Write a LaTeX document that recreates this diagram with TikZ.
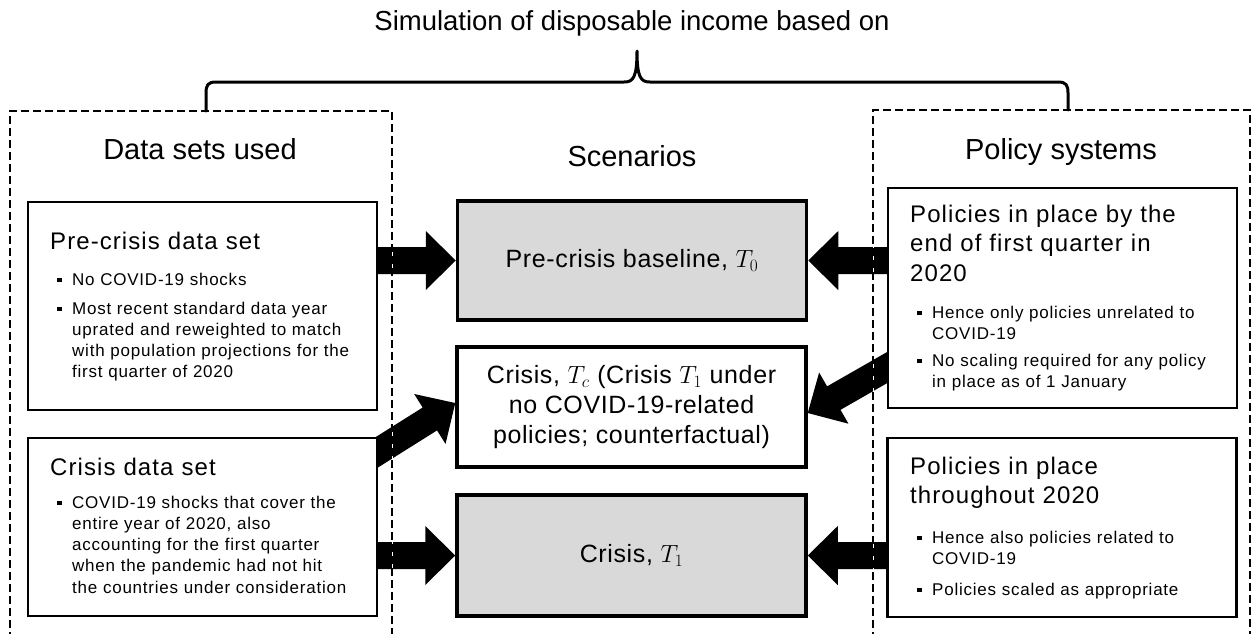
\documentclass[tikz,border=0pt]{standalone}
\usepackage{fontspec}
\setmainfont{Liberation Sans}
\newfontfamily\spacedfont[LetterSpace=4.5]{Liberation Sans}
\newfontfamily\scenfont[LetterSpace=2.5]{Liberation Sans}
\usetikzlibrary{calc}
\pgfdeclarelayer{background}
\pgfsetlayers{background,main}
\definecolor{boxgray}{HTML}{D9D9D9}
\newcommand{\bsq}{\llap{\rule[2.6pt]{4.6pt}{4.6pt}\hspace{10.4pt}}}
\newcommand{\fatarrow}[2]{%
  \coordinate (fab) at ($(#2)!30pt!(#1)$);
  \fill ($(fab)!13.5pt!90:(#1)$) -- ($(#1)!13.5pt!-90:(fab)$) -- ($(#1)!13.5pt!90:(fab)$) -- ($(fab)!13.5pt!-90:(#1)$) -- ($(fab)!29.5pt!-90:(#1)$) -- (#2) -- ($(fab)!29.5pt!90:(#1)$) -- cycle;}
\begin{document}
\begin{tikzpicture}[x=1pt, y=-1pt,
  frame/.style={draw=black, line width=2.2pt, fill=white, inner sep=0pt, minimum width=349pt},
  scen/.style={draw=black, line width=3.5pt, inner sep=0pt, minimum width=349pt, minimum height=120pt, font=\scenfont\fontsize{25}{30}\selectfont, align=center},
  txt/.style={inner sep=0pt, anchor=base west, text width=340pt, align=left},
  ttl/.style={txt, font=\spacedfont\fontsize{24}{29.5}\selectfont},
  itm/.style={txt, font=\spacedfont\fontsize{17}{21.3}\selectfont},
  hdr/.style={inner sep=0pt, anchor=base, font=\fontsize{29}{34}\selectfont},
  ttlmain/.style={inner sep=0pt, anchor=base, font=\fontsize{27.5}{32}\selectfont},
  dsh/.style={line width=2pt, dash pattern=on 8pt off 4pt},
  dshunder/.style={white, line width=1pt},
  bracepath/.style={line width=3pt, line join=round, line cap=round}
]
\useasboundingbox (0,0) rectangle (1252,633);

% title and brace
\node[ttlmain] (title) at (632,30) {Simulation of disposable income based on};
\draw[bracepath] (206,111) -- (206,93) .. controls (206,85) and (208,82) .. (216,82) -- (624,82) .. controls (633,82) and (637,78) .. (637,51) .. controls (637,78) and (641,82) .. (650,82) -- (1058,82) .. controls (1066,82) and (1068,85) .. (1068,93) -- (1068,110);

% dashed groups
\draw[dshunder] (392,111) -- (392,640);
\draw[dshunder] (873,110) -- (873,640);
\draw[dsh] (10,640) -- (10,111) -- (392,111) -- (392,640);
\draw[dsh] (873,640) -- (873,110) -- (1250,110) -- (1250,640);

% headers
\node[hdr] (h1) at (200,159) {Data sets used};
\node[hdr] (h2) at (632,166) {Scenarios};
\node[hdr] (h3) at (1061,159) {Policy systems};

% left boxes
\node[frame, minimum height=208pt] (pcd) at (202.5,306) {};
\node[ttl] (pcdt) at (50,249) {Pre-crisis data set};
\node[itm] (pcd1) at (72,285) {\bsq No COVID-19 shocks};
\node[itm] (pcd2) at (72,314) {\bsq Most recent standard data year\\uprated and reweighted to match\\with population projections for the\\first quarter of 2020};

\node[frame, minimum height=178pt] (cds) at (202.5,527) {};
\node[ttl] (cdst) at (50,475) {Crisis data set};
\node[itm] (cds1) at (72,508) {\bsq COVID-19 shocks that cover the\\entire year of 2020, also\\accounting for the first quarter\\when the pandemic had not hit\\the countries under consideration};

% right boxes
\node[frame, minimum height=220pt] (pa) at (1062.5,298) {};
\node[ttl] (pat) at (910,222) {Policies in place by the\\end of first quarter in\\2020};
\node[itm] (pa1) at (932,318) {\bsq Hence only policies unrelated to\\COVID-19};
\node[itm] (pa2) at (932,366) {\bsq No scaling required for any policy\\in place as of 1 January};

\node[frame, minimum height=179pt] (pb) at (1062,527.5) {};
\node[ttl] (pbt) at (910,474) {Policies in place\\throughout 2020};
\node[itm] (pb1) at (932,543) {\bsq Hence also policies related to\\COVID-19};
\node[itm] (pb2) at (932,595) {\bsq Policies scaled as appropriate};

% scenario boxes
\node[scen, fill=boxgray, minimum height=119pt] (t0) at (632,260.5) {Pre-crisis baseline, $T_0$};
\node[scen, fill=white] (tc) at (631.5,407) {Crisis, $T_c$ (Crisis $T_1$ under\\no COVID-19-related\\policies; counterfactual)};
\node[scen, fill=boxgray, minimum height=121pt] (t1) at (631.5,555.5) {Crisis, $T_1$};

% connectors
\coordinate (a1s) at (pcd.east |- t0.west);
\coordinate (a1e) at (t0.west);
\coordinate (a2s) at (pa.west |- t0.east);
\coordinate (a2e) at (t0.east);
\coordinate (a3s) at (cds.east |- t1.west);
\coordinate (a3e) at (t1.west);
\coordinate (a4s) at (pb.west |- t1.east);
\coordinate (a4e) at (t1.east);
\coordinate (a5s) at ($(cds.north east)+(-15,24)$);
\coordinate (a5e) at ($(tc.west)+(0,-4)$);
\coordinate (a6s) at ($(pa.south west)+(15,-50)$);
\coordinate (a6e) at ($(tc.east)+(0,6)$);
\begin{pgfonlayer}{background}
\fatarrow{a1s}{a1e}
\fatarrow{a2s}{a2e}
\fatarrow{a3s}{a3e}
\fatarrow{a4s}{a4e}
\fatarrow{a5s}{a5e}
\fatarrow{a6s}{a6e}
\end{pgfonlayer}
\end{tikzpicture}
\end{document}
